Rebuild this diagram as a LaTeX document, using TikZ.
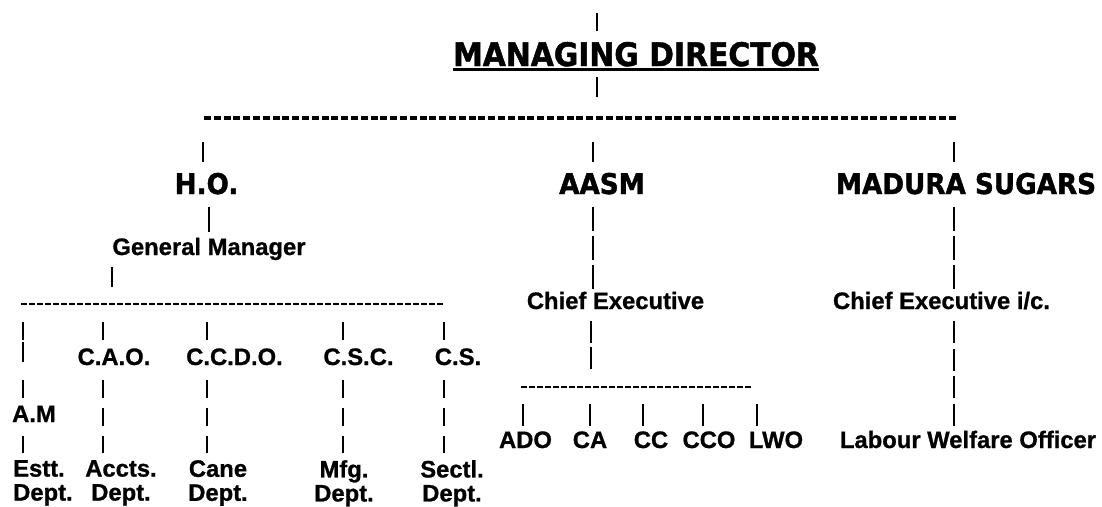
\documentclass[tikz,border=0pt]{standalone}
\usepackage{fontspec}
\setmainfont{Liberation Sans}
\newfontfamily\headfont{DejaVu Sans Bold}[FakeStretch=0.92,FakeBold=1.4]
\newfontfamily\lblfont{Liberation Sans Bold}[FakeBold=0.9]
\tikzset{
  mdtitle/.style={inner sep=0pt,anchor=base,text height=23.6pt,text depth=0pt,
    font=\headfont\fontsize{32.4}{34}\selectfont},
  unithead/.style={inner sep=0pt,anchor=base,text height=21pt,text depth=0pt,
    font=\headfont\fontsize{28.5}{30}\selectfont},
  lbl/.style={inner sep=0pt,anchor=base,text height=17pt,text depth=5pt,
    font=\lblfont\fontsize{23.8}{24}\selectfont},
  deptlbl/.style={inner sep=0pt,anchor=north,align=center,
    font=\lblfont\fontsize{23.8}{24}\selectfont},
  uline/.style={line width=3pt},
  thinbar/.style={line width=1.5pt},
  vbar/.style={line width=2.8pt},
  vstack/.style={vbar,dash pattern=on 18pt off 10pt,shorten <=10pt,shorten >=7pt},
  unitstack/.style={vbar,dash pattern=on 24pt off 5pt,shorten <=13pt,shorten >=3pt},
  hyphtop/.style={line width=3.2pt,dash pattern=on 7pt off 2.8pt},
  hyphlow/.style={line width=2.8pt,dash pattern=on 6pt off 2pt}
}
\begin{document}
\begin{tikzpicture}[x=1pt,y=-1pt]
  \useasboundingbox (0,0) rectangle (1102,506);
  \node[mdtitle] (md) at (636,66) {MANAGING DIRECTOR};
  \draw[uline] ([yshift=-3.5pt]md.base west) -- ([yshift=-3.5pt]md.base east);
  \coordinate (md top) at (597,13);
  \coordinate (md tap) at (597,118);
  \coordinate (bus west) at (204,118);
  \coordinate (bus east) at (957,118);
  \draw[thinbar,shorten >=11pt] (md top) -- (md top |- md.north);
  \draw[thinbar,shorten <=11pt,shorten >=21pt] (md tap |- md.south) -- (md tap);
  \draw[hyphtop] (bus west) -- (bus east);

  \node[unithead] (ho) at (206.5,194) {H.O.};
  \node[unithead] (aasm) at (602,194) {AASM};
  \node[unithead] (madura) at (966,194) {MADURA SUGARS};
  \coordinate (tap-ho) at (203,118);
  \coordinate (tap-aasm) at (593,118);
  \coordinate (tap-madura) at (954,118);
  \foreach \u in {ho,aasm,madura}
    \draw[thinbar,shorten <=24pt,shorten >=11pt] (tap-\u) -- (tap-\u |- \u.north);

  % H.O.
  \node[lbl] (gm) at (209,255) {General Manager};
  \draw[vbar,shorten <=13pt,shorten >=6pt] (gm.north |- ho.south) -- (gm.north);
  \coordinate (gm tap) at (112,304);
  \coordinate (ho bus west) at (21,304);
  \coordinate (ho bus east) at (443,304);
  \draw[vbar,shorten <=7pt,shorten >=17pt] (gm tap |- gm.south) -- (gm tap);
  \draw[hyphlow] (ho bus west) -- (ho bus east);

  \node[lbl] (cao) at (114,365) {C.A.O.};
  \node[lbl] (ccdo) at (234.5,365) {C.C.D.O.};
  \node[lbl] (csc) at (358.5,365) {C.S.C.};
  \node[lbl] (cs) at (458,365) {C.S.};
  \node[lbl] (am) at (34,422) {A.M};
  \node[deptlbl,align=left,anchor=north west] (estt) at (13,460) {Estt.\\Dept.};
  \node[deptlbl] (accts) at (121,460) {Accts.\\Dept.};
  \node[deptlbl] (cane) at (218,460) {Cane\\Dept.};
  \node[deptlbl] (mfg) at (344,460) {Mfg.\\Dept.};
  \node[deptlbl] (sectl) at (452,460) {Sectl.\\Dept.};
  \coordinate (hc1) at (23,304);
  \coordinate (hc2) at (103,304);
  \coordinate (hc3) at (207,304);
  \coordinate (hc4) at (343,304);
  \coordinate (hc5) at (444,304);
  \draw[vbar,dash pattern=on 18pt off 2pt on 20pt off 18pt on 18pt off 40pt,shorten <=18pt]
    (hc1) -- (hc1 |- am.north);
  \draw[vbar,shorten <=9pt,shorten >=7pt] (hc1 |- am.south) -- (hc1 |- estt.north);
  \foreach \t/\n/\d in {hc2/cao/accts,hc3/ccdo/cane,hc4/csc/mfg,hc5/cs/sectl} {
    \draw[vbar,shorten <=18pt,shorten >=8pt] (\t) -- (\t |- \n.north);
    \draw[vstack] (\t |- \n.south) -- (\t |- \d.north);
  }

  % AASM
  \node[lbl] (ce) at (615.5,309) {Chief Executive};
  \draw[unitstack] (tap-aasm |- aasm.south) -- (tap-aasm |- ce.north);
  \coordinate (ce tap) at (591,387);
  \coordinate (aasm bus west) at (521,387);
  \coordinate (aasm bus east) at (752,387);
  \draw[vbar,dash pattern=on 22pt off 4pt,shorten <=7pt,shorten >=17pt] (ce tap |- ce.south) -- (ce tap);
  \draw[hyphlow] (aasm bus west) -- (aasm bus east);
  \foreach \n/\x/\c/\txt in {ado/523/525.5/ADO,ca/590/590/CA,cc/643/651/CC,cco/703/709/CCO,lwo/757/776/LWO} {
    \node[lbl] (\n) at (\c,448) {\txt};
    \coordinate (tap-\n) at (\x,387);
    \draw[vbar,shorten <=17pt,shorten >=5pt] (tap-\n) -- (tap-\n |- \n.north);
  }

  % MADURA SUGARS
  \node[lbl] (cei) at (941.5,309) {Chief Executive i/c.};
  \draw[unitstack] (tap-madura |- madura.south) -- (tap-madura |- cei.north);
  \node[lbl] (lwoff) at (968,448) {Labour Welfare Officer};
  \draw[vbar,dash pattern=on 22pt off 5.5pt,shorten <=7pt,shorten >=5pt]
    (tap-madura |- cei.south) -- (tap-madura |- lwoff.north);
\end{tikzpicture}
\end{document}
